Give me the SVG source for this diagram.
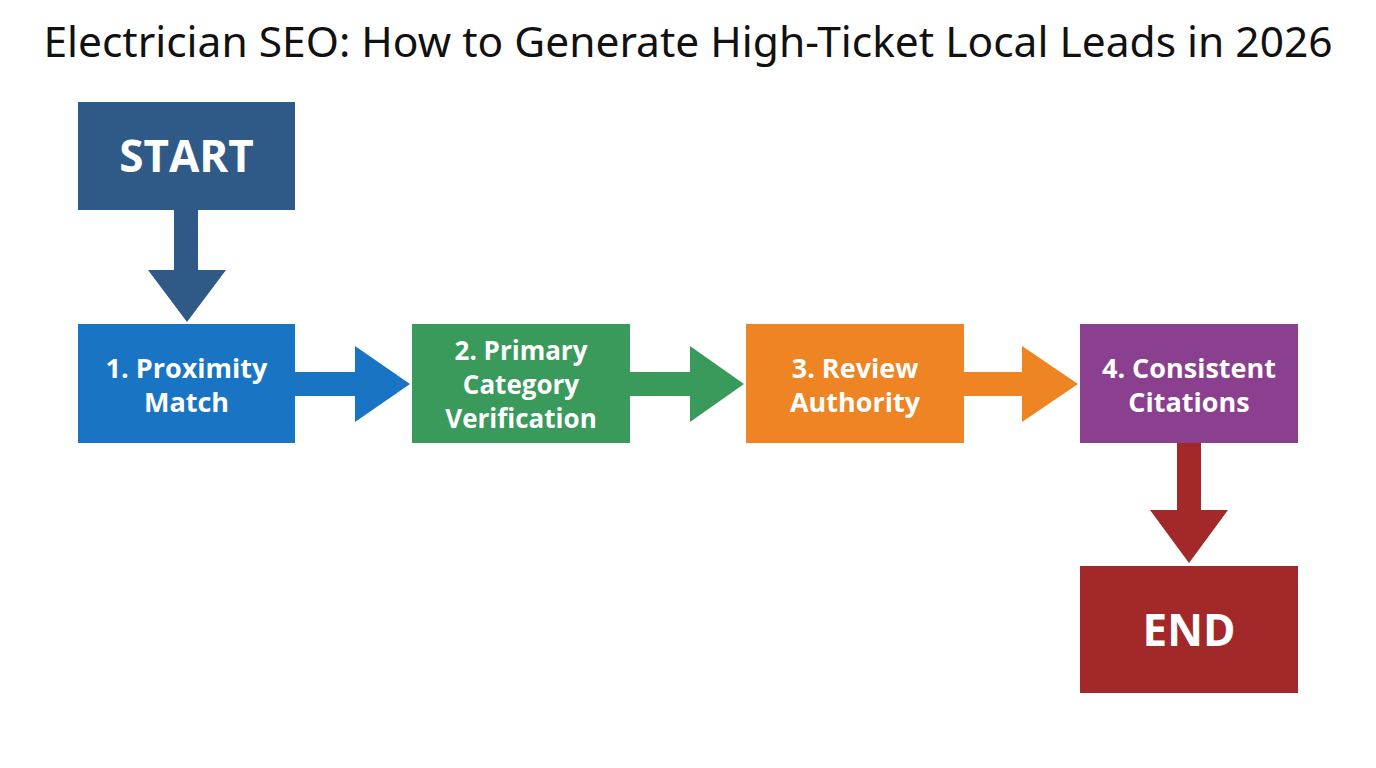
<svg xmlns="http://www.w3.org/2000/svg" width="1376" height="768" viewBox="0 0 1376 768">
<style>
.t{font-family:"Noto Sans","Open Sans",sans-serif;fill:#111;font-size:42.5px}
.l{font-family:"Open Sans","Noto Sans",sans-serif;font-weight:bold;fill:#fff;text-anchor:middle}
.s{font-size:27px}
.m{font-size:26px}
.b{font-size:44px}
</style>
<rect width="1376" height="768" fill="#fff"/>
<text class="t" x="688" y="57" text-anchor="middle">Electrician SEO: How to Generate High-Ticket Local Leads in 2026</text>
<g id="connectors">
<polygon fill="#2F5A88" points="174,210 198,210 198,270 226,270 187,322 148,270 174,270"/>
<polygon fill="#1A74C4" points="295,372 355,372 355,346 410,384 355,422 355,396 295,396"/>
<polygon fill="#3A9A5C" points="630,372 690,372 690,346 744,384 690,422 690,396 630,396"/>
<polygon fill="#EE8424" points="964,372 1022,372 1022,346 1078,384 1022,422 1022,396 964,396"/>
<polygon fill="#A3282A" points="1177,443 1201,443 1201,510 1228,510 1189,563 1150,510 1177,510"/>
</g>
<g id="start"><rect x="78" y="102" width="217" height="108" fill="#2F5A88"/><text class="l b" x="186.5" y="172">START</text></g>
<g id="n1"><rect x="78" y="324" width="217" height="119" fill="#1A74C4"/><text class="l s" x="186.5" y="378">1. Proximity</text><text class="l s" x="186.5" y="412">Match</text></g>
<g id="n2"><rect x="412" y="324" width="218" height="119" fill="#3A9A5C"/><text class="l m" x="521" y="360">2. Primary</text><text class="l m" x="521" y="394">Category</text><text class="l m" x="521" y="428">Verification</text></g>
<g id="n3"><rect x="746" y="324" width="218" height="119" fill="#EE8424"/><text class="l s" x="855" y="378">3. Review</text><text class="l s" x="855" y="412">Authority</text></g>
<g id="n4"><rect x="1080" y="324" width="218" height="119" fill="#8B3F8F"/><text class="l s" x="1189" y="378">4. Consistent</text><text class="l s" x="1189" y="412">Citations</text></g>
<g id="end"><rect x="1080" y="566" width="218" height="127" fill="#A3282A"/><text class="l b" x="1189" y="646">END</text></g>
</svg>
